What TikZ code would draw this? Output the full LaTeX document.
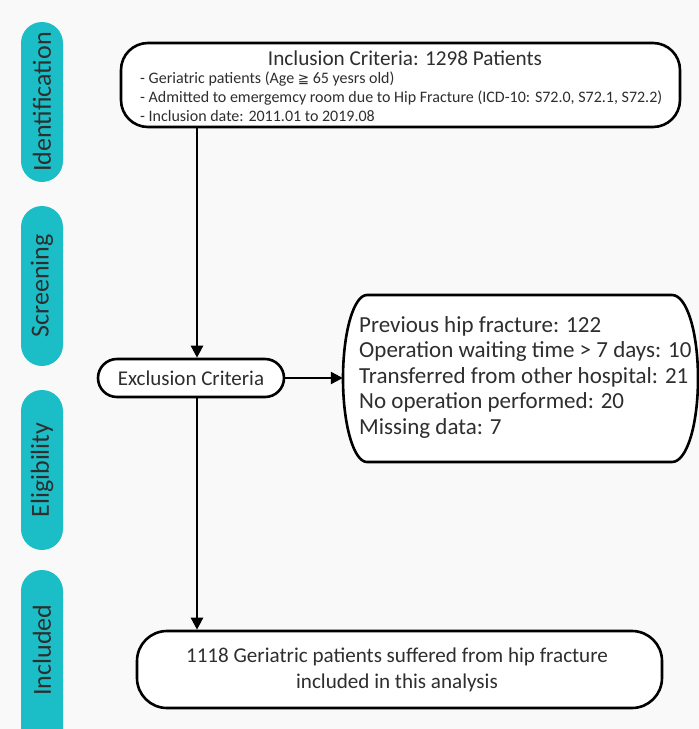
\documentclass[tikz,border=0pt]{standalone}
\usepackage{fontspec}
\setmainfont{Carlito}
\newfontfamily\symfont{DejaVu Sans}
\usetikzlibrary{arrows.meta,shapes.misc}
\definecolor{teal1}{HTML}{1BBEC7}
\definecolor{bg}{HTML}{F9F9F9}
\definecolor{txt}{HTML}{2E2E2E}
\tikzset{
  pill/.style={fill=teal1, rounded corners=21pt, minimum width=42pt, minimum height=160pt, inner sep=0pt},
  pilltext/.style={rotate=90, font=\fontsize{26}{28}\selectfont, text=txt},
  box/.style={draw=black, line width=2.6pt, fill=white, inner sep=0pt},
  conn/.style={line width=2.4pt, -{Triangle[length=12pt,width=12pt]}},
}
\begin{document}
\begin{tikzpicture}[x=1pt,y=-1pt]
\useasboundingbox (0,0) rectangle (699,729);
\fill[bg] (0,0) rectangle (699,729);
% side pills
\node[pill] (p1) at (42,102) {};
\node[pilltext] (t1) at (p1.center) {Identification};
\node[pill] (p2) at (42,286) {};
\node[pilltext] (t2) at (p2.center) {Screening};
\node[pill] (p3) at (42,470) {};
\node[pilltext] (t3) at (p3.center) {Eligibility};
\node[pill, minimum height=180pt] (p4) at (42,660) {};
\node[pilltext] (t4) at (42,650) {Included};
% top box
\node[box, rounded corners=27pt, minimum width=559pt, minimum height=84pt] (inc) at (400.5,85) {};
\node[font=\fontsize{21.2}{23}\selectfont, text=txt] (inct) at (405,58) {Inclusion Criteria: 1298 Patients};
\node[font=\fontsize{16}{19}\selectfont, text=txt, anchor=north west, align=left, inner sep=0pt] (incl) at (140,71.5)
 {- Geriatric patients (Age {\symfont\fontsize{13.5}{16}\selectfont ≧} 65 yesrs old)\\
  - Admitted to emergemcy room due to Hip Fracture (ICD-10: S72.0, S72.1, S72.2)\\
  - Inclusion date: 2011.01 to 2019.08};
% exclusion criteria
\node[box, rounded rectangle, minimum width=186pt, minimum height=38pt, font=\fontsize{21}{23}\selectfont, text=txt] (exc) at (191,378) {Exclusion Criteria};
% exclusion list (outline drawn with elliptical sides)
\node[inner sep=0pt, minimum width=356pt, minimum height=167pt] (exl) at (521,378.5) {};
\draw[line width=2.6pt, fill=white] (367,295) -- (672,295)
  .. controls (686.9,295) and (698,332.4) .. (698,378.5)
  .. controls (698,424.6) and (686.9,462) .. (672,462)
  -- (367,462)
  .. controls (353.7,462) and (343,424.6) .. (343,378.5)
  .. controls (343,332.4) and (353.7,295) .. (367,295) -- cycle;
\node[font=\fontsize{23}{25.5}\selectfont, text=txt, anchor=north west, align=left, inner sep=0pt] (exlt) at (359,316)
 {Previous hip fracture: 122\\
  Operation waiting time > 7 days: 10\\
  Transferred from other hospital: 21\\
  No operation performed: 20\\
  Missing data: 7};
% included
\node[box, rounded corners=30pt, minimum width=525pt, minimum height=77pt] (fin) at (399.5,669.5) {};
\node[align=center, font=\fontsize{21.1}{26}\selectfont, text=txt] (fint) at (397,670)
 {1118 Geriatric patients suffered from hip fracture\\included in this analysis};
% connectors
\coordinate (c1) at (197,127);
\coordinate (c2) at (197,397);
\draw[conn] (c1) -- (c1 |- exc.north);
\draw[conn] (exc.east) -- (exc.east -| exl.west);
\draw[conn] (c2) -- (c2 |- fin.north);
\end{tikzpicture}
\end{document}
